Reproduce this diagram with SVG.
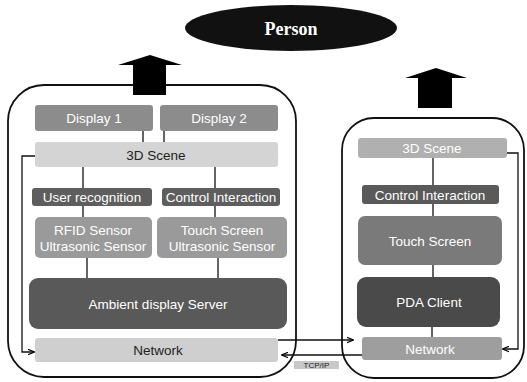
<svg xmlns="http://www.w3.org/2000/svg" width="527" height="382" viewBox="0 0 527 382">
<defs>
<marker id="ah" viewBox="0 0 10 10" refX="9" refY="5" markerWidth="7" markerHeight="7" orient="auto" markerUnits="userSpaceOnUse">
<path d="M0,1 L10,5 L0,9" fill="none" stroke="#000" stroke-width="1.6"/>
</marker>
</defs>
<style>
.frame{fill:#fff;stroke:#111;stroke-width:1.8}
.n{stroke:none}
.t{font-family:"Liberation Sans",Arial,sans-serif;font-size:13.5px;text-anchor:middle;dominant-baseline:central}
.w{fill:#fff}
.d{fill:#222}
.c{fill:none;stroke:#111;stroke-width:1.3}
.big{fill:#000}
</style>
<rect width="527" height="382" fill="#fff"/>

<g id="containers">
<rect class="frame" x="8" y="85" width="288" height="292" rx="36" ry="36"/>
<rect class="frame" x="342" y="118" width="182" height="260" rx="32" ry="32"/>
</g>

<g id="person">
<ellipse cx="291" cy="28" rx="106" ry="23" fill="#111"/>
<text x="291" y="29" text-anchor="middle" dominant-baseline="central" font-family="'Liberation Serif','Times New Roman',serif" font-size="18" font-weight="bold" fill="#fff">Person</text>
</g>

<g id="up-arrows">
<path class="big" d="M133,95 V65 H118 L150,55 L182,65 H166 V95 Z"/>
<path class="big" d="M418,108 V78 H405 L436,68 L467,78 H452 V108 Z"/>
</g>

<g id="connectors">
<line class="c" x1="143" y1="131" x2="143" y2="142"/>
<line class="c" x1="164" y1="131" x2="164" y2="142"/>
<line class="c" x1="83" y1="167" x2="83" y2="188"/>
<line class="c" x1="215" y1="167" x2="215" y2="188"/>
<line class="c" x1="83" y1="206" x2="83" y2="217"/>
<line class="c" x1="215" y1="206" x2="215" y2="217"/>
<line class="c" x1="87" y1="258" x2="87" y2="278"/>
<line class="c" x1="218" y1="258" x2="218" y2="278"/>
<path class="c" d="M35,156 H22 V352 H34" marker-end="url(#ah)"/>
<line class="c" x1="433" y1="158" x2="433" y2="185"/>
<line class="c" x1="433" y1="204" x2="433" y2="216"/>
<line class="c" x1="433" y1="265" x2="433" y2="277"/>
<line class="c" x1="432" y1="327" x2="432" y2="337"/>
<path class="c" d="M507,153 H518 V349 H503" marker-end="url(#ah)"/>
<path class="c" d="M278,340 H353" marker-end="url(#ah)"/>
<path class="c" d="M364,355 H282" marker-end="url(#ah)"/>
</g>

<g id="tcpip">
<rect x="294" y="361" width="45" height="8" fill="#c8c8c8"/>
<text x="316.5" y="365.5" text-anchor="middle" dominant-baseline="central" font-family="'Liberation Sans',Arial,sans-serif" font-size="8" fill="#222">TCP/IP</text>
</g>

<g id="display1">
<rect class="n" x="35" y="105" width="118" height="26" rx="3" fill="#8c8c8c"/>
<text class="t w" x="94" y="118">Display 1</text>
</g>
<g id="display2">
<rect class="n" x="160" y="105" width="118" height="26" rx="3" fill="#8c8c8c"/>
<text class="t w" x="219" y="118">Display 2</text>
</g>
<g id="scene-left">
<rect class="n" x="35" y="142" width="243" height="25" rx="3" fill="#d4d4d4"/>
<text class="t d" x="156" y="155">3D Scene</text>
</g>
<g id="user-recognition">
<rect class="n" x="32" y="188" width="120" height="18" rx="3" fill="#5e5e5e"/>
<text class="t w" x="92" y="197">User recognition</text>
</g>
<g id="control-left">
<rect class="n" x="162" y="188" width="118" height="18" rx="3" fill="#5e5e5e"/>
<text class="t w" x="221" y="197">Control Interaction</text>
</g>
<g id="rfid">
<rect class="n" x="35" y="217" width="117" height="41" rx="5" fill="#9a9a9a"/>
<text class="t w" x="93" y="230">RFID Sensor</text>
<text class="t w" x="93" y="246">Ultrasonic Sensor</text>
</g>
<g id="touch-left">
<rect class="n" x="157" y="217" width="130" height="41" rx="5" fill="#9a9a9a"/>
<text class="t w" x="222" y="230">Touch Screen</text>
<text class="t w" x="222" y="246">Ultrasonic Sensor</text>
</g>
<g id="ambient">
<rect class="n" x="29" y="278" width="258" height="51" rx="9" fill="#595959"/>
<text class="t w" x="158" y="304">Ambient display Server</text>
</g>
<g id="network-left">
<rect class="n" x="35" y="338" width="243" height="24" rx="3" fill="#cfcfcf"/>
<text class="t d" x="158" y="350">Network</text>
</g>

<g id="scene-right">
<rect class="n" x="358" y="138" width="149" height="20" rx="3" fill="#b0b0b0"/>
<text class="t w" x="432" y="148">3D Scene</text>
</g>
<g id="control-right">
<rect class="n" x="362" y="185" width="137" height="19" rx="3" fill="#5a5a5a"/>
<text class="t w" x="430" y="195">Control Interaction</text>
</g>
<g id="touch-right">
<rect class="n" x="358" y="216" width="144" height="49" rx="7" fill="#7a7a7a"/>
<text class="t w" x="430" y="241">Touch Screen</text>
</g>
<g id="pda">
<rect class="n" x="357" y="277" width="143" height="50" rx="9" fill="#4a4a4a"/>
<text class="t w" x="429" y="302">PDA Client</text>
</g>
<g id="network-right">
<rect class="n" x="362" y="337" width="140" height="23" rx="3" fill="#9e9e9e"/>
<text class="t w" x="430" y="349">Network</text>
</g>
</svg>
